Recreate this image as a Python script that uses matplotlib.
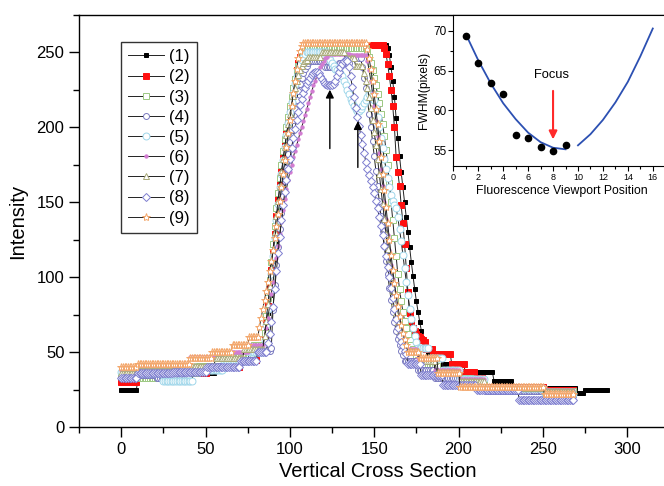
import numpy as np
import matplotlib
matplotlib.use('Agg')
import matplotlib.pyplot as plt
from matplotlib.ticker import MultipleLocator

plt.rcParams['font.family'] = ['Liberation Sans', 'DejaVu Sans']

# ---------------- data (run-length: (value, count) or single value per x step) ----------------
labels = ['(1)', '(2)', '(3)', '(4)', '(5)', '(6)', '(7)', '(8)', '(9)']

s1 = [(25, 10), (32, 15), (33, 16), (36, 15), (40, 15), (45, 9), (52, 5),
      58, 66, 76, 88, 100, 112, 124, 136, 147, 157, 166, 175, 184, 193, 201, 209, 216, 223, 229, 235,
      240, 244, 248, 251, 253, 254,
      (255, 47),
      253, 248, 240, 231, 220, 206, 193, 181, 170, 160, 150, 140, 130, 120, 110, 101, 92, 84, 77, 70,
      64, 59, 55, 52, 49,
      (46, 8), (42, 8), (37, 22), (31, 11), (26, 38), (23, 5), (25, 14)]

s2 = [(30, 10), (34, 21), (36, 20), (40, 20), (45, 10), (52, 4),
      60, 70, 81, 93, 105, 117, 129, 141, 152, 162, 171, 180, 189, 197, 205, 212, 219, 226, 232, 238,
      243, 247, 250, 253, 254,
      (255, 46),
      253, 249, 242, 234, 225, 214, 200, 180, 170, 161, 148, 136, 122, 106, 90, 76, 70, 66, 64, 62,
      61, 60, 59, 58, 57,
      (52, 4), (49, 11), (42, 8), (37, 6), (33, 5), (27, 36), (25, 18)]

s3 = [(35, 10), (33, 16), (36, 20), (41, 20), (47, 13), (55, 6),
      63, 74, 86, 98, 110, 122, 134, 146, 156, 166, 175, 184, 192, 200, 207, 214, 220, 226, 232, 237,
      241, 245, 248, 250, 252,
      (253, 36),
      250, 247, 243, 238, 233, 228, 222, 216, 209, 202, 194, 185, 175, 163, 150, 138, 126, 114, 102, 92,
      84, 77, 71, 66, 62, 58, 55, 52, 50, 48,
      (45, 6), (41, 6), (37, 8), (33, 12), (29, 8), (26, 20), (24, 33)]

s4 = [(33, 10), (35, 11), (33, 20), (38, 17), (41, 13), (45, 9), (52, 5),
      56, 54, 52, 51, 53, 78, 95, 108, 120, 132, 143, 154, 164, 173, 182, 190, 198, 205, 212, 218,
      224, 229, 233, 236, 239, 241, 243,
      (244, 9), (240, 8), (243, 7), (246, 7),
      240, 233, 226, 218, 209, 200, 191, 181, 171, 161, 151, 141, 131, 121, 111, 102, 93, 85, 77, 70,
      64, 59, 55, 51, 48,
      (44, 8), (38, 10), (33, 15), (28, 15), (24, 35), (21, 18)]

s5 = [(37, 10), (36, 15), (31, 18), (38, 18), (44, 15), (50, 9),
      58, 68, 79, 90, 102, 114, 126, 138, 149, 160, 169, 178, 187, 195, 203, 210, 217, 223, 229, 234,
      238, 242, 245, 247, 249,
      (250, 13),
      247, 245, 243, 241, 239, 238, 237, 236, 234, 231, 228, 225, 222, 219, 217, 214, 212, 211, 211, 212,
      214, 216, 218, 220, 222, 223, 222, 218, 213, 207, 200, 193, 186, 179, 172, 166, 160, 155, 151, 148,
      146, 140, 132, 124, 115, 106, 97, 88, 79, 72, 66, 61, 57,
      (53, 7), (46, 8), (38, 10), (32, 15), (26, 35), (22, 18)]

s6 = [(38, 10), (40, 31), (47, 20), (50, 15), (55, 9),
      60, 66, 73, 81, 89, 97, 105, 113, 121, 129, 137, 145, 152, 159, 165, 170, 175, 180, 184, 188,
      192, 196, 200, 204, 208, 212, 216, 220, 224, 228, 231, 234, 237, 240, 242, 244, 246, 247,
      (249, 13), (248, 10),
      244, 238, 231, 223, 214, 204, 194, 183, 172, 161, 150, 139, 128, 118, 108, 99, 90, 82, 75, 69,
      64, 60, 56,
      (52, 7), (46, 10), (38, 15), (32, 15), (27, 35), (25, 18)]

s7 = [(36, 10), (38, 26), (41, 20), (46, 17), (52, 12),
      61, 71, 82, 94, 106, 118, 130, 141, 151, 161, 170, 179, 187, 195, 202, 209, 215, 221, 226, 231,
      235, 238, 241, 243, 244, 245,
      (247, 8), (250, 14), (246, 6), (241, 5),
      236, 231, 226, 220, 213, 205, 197, 188, 179, 169, 159, 149, 139, 129, 119, 109, 100, 91, 83, 76,
      70, 64, 60, 56,
      (51, 9), (44, 10), (37, 14), (31, 15), (26, 35), (24, 18)]

s8 = [(33, 10), (36, 21), (37, 20), (40, 20), (44, 10), (50, 6),
      56, 62, 70, 80, 92, 104, 116, 127, 138, 148, 157, 165, 172, 179, 186, 193, 199, 205, 210, 215,
      219, 223, 226, 229, 231, 233, 235, 236, 237,
      237, 236, 234, 232, 230, 229, 228, 228, 228, 228, 229, 231, 234, 237, 240, 242, 244, 245, 244, 240,
      234, 227, 220, 213, 207, 201, 195, 189, 183, 177, 172, 168, 164, 160, 156, 151, 146, 140, 134, 128,
      121, 114, 107, 100, 93, 86, 79, 72, 66, 61, 57, 54, 51, 49,
      (42, 8), (35, 13), (28, 20), (25, 25), (18, 33)]

s9 = [(40, 10), (42, 31), (46, 13), (50, 12), (55, 10), (60, 6),
      67, 73, 79, 85, 91, 97, 104, 111, 118, 126, 134, 142, 151, 160, 169, 178, 187, 196, 205, 214,
      223, 231, 239, 246, 251, 254,
      (256, 38),
      252, 246, 239, 231, 222, 212, 202, 191, 180, 169, 158, 147, 136, 125, 115, 105, 96, 88, 81, 74,
      68, 63, 59, 55,
      (50, 7), (46, 11), (36, 13), (27, 50), (22, 18)]

# inset data
focus_pos = [1, 2, 3, 4, 5, 6, 7, 8, 9]
fwhm = [69.4, 65.9, 63.4, 62.0, 56.9, 56.5, 55.4, 54.9, 55.7]
fit_x1 = [1, 2, 3, 4, 5, 6, 7, 8, 9]
fit_y1 = [69.6, 66.3, 63.4, 60.9, 58.9, 57.2, 56.0, 55.3, 55.1]
fit_x2 = [10, 11, 12, 13, 14, 15, 16]
fit_y2 = [55.6, 57.0, 58.8, 61.0, 63.6, 66.8, 70.3]


def expand(seq):
    out = []
    for item in seq:
        if isinstance(item, tuple):
            out.extend([item[0]] * item[1])
        else:
            out.append(item)
    return np.array(out, dtype=float)


series = [expand(s) for s in (s1, s2, s3, s4, s5, s6, s7, s8, s9)]

styles = [
    dict(marker='s', ms=2.2, mfc='black', mec='black'),
    dict(marker='s', ms=4.5, mfc='#ff1010', mec='#ff1010'),
    dict(marker='s', ms=4.3, mfc='white', mec='#9cc882'),
    dict(marker='o', ms=4.3, mfc='white', mec='#7a7ac0'),
    dict(marker='o', ms=5.0, mfc='white', mec='#9fd6ea'),
    dict(marker='o', ms=2.4, mfc='#d27cd2', mec='#d27cd2'),
    dict(marker='^', ms=5.0, mfc='white', mec='#a9a978'),
    dict(marker='D', ms=4.3, mfc='white', mec='#7e7ed0'),
    dict(marker='*', ms=6.0, mfc='white', mec='#f3a66a'),
]

fig = plt.figure(figsize=(6.64, 4.86), dpi=100)
W, H = 664.0, 486.0
ax = fig.add_axes([79 / W, 59 / H, (677 - 79) / W, 412 / H])

for y, lab, st in zip(series, labels, styles):
    x = np.arange(len(y))
    ax.plot(x, y, linestyle='-', color='#222222', lw=0.7, mew=0.7, label=lab, **st)

ax.set_xlim(-25, 329.5)
ax.set_ylim(0, 275)
ax.xaxis.set_major_locator(MultipleLocator(50))
ax.xaxis.set_minor_locator(MultipleLocator(25))
ax.yaxis.set_major_locator(MultipleLocator(50))
ax.yaxis.set_minor_locator(MultipleLocator(25))
ax.tick_params(which='major', direction='out', length=7, width=1, labelsize=12)
ax.tick_params(which='minor', direction='out', length=4, width=1)
ax.spines['right'].set_visible(False)
for sp in ax.spines.values():
    sp.set_linewidth(1.0)
ax.set_xlabel('Vertical Cross Section', fontsize=14.5, labelpad=4)
ax.set_ylabel('Intensity', fontsize=14.5, labelpad=7)

leg = ax.legend(loc='upper left', bbox_to_anchor=(120.7 / W, 1 - 41.7 / H),
                bbox_transform=fig.transFigure, fontsize=12, handlelength=2.15,
                handletextpad=0.3, labelspacing=0.31, borderpad=0.45, borderaxespad=0,
                fancybox=False, edgecolor='#333333', framealpha=1, numpoints=1)
leg.get_frame().set_linewidth(1.0)

ax.annotate('', xy=(123.7, 227), xytext=(123.7, 184),
            arrowprops=dict(arrowstyle='-|>', color='black', lw=1, mutation_scale=12))
ax.annotate('', xy=(140.3, 206), xytext=(140.3, 171.4),
            arrowprops=dict(arrowstyle='-|>', color='black', lw=1, mutation_scale=12))

# ---------------- inset ----------------
ax2 = fig.add_axes([453.3 / W, (H - 166) / H, (671 - 453.3) / W, 151 / H])
ax2.plot(fit_x1, fit_y1, color='#2c50b2', lw=1.3)
ax2.plot(fit_x2, fit_y2, color='#2c50b2', lw=1.3)
ax2.plot(focus_pos, fwhm, 'o', color='black', ms=4.5)
ax2.annotate('', xy=(8, 56.0), xytext=(8, 62.8),
             arrowprops=dict(arrowstyle='-|>', color='#ff2a2a', lw=1.5, mutation_scale=12))
ax2.text(7.9, 64.5, 'Focus', ha='center', va='center', fontsize=9.3)
ax2.set_xlim(0, 17.46)
ax2.set_ylim(53, 72)
ax2.xaxis.set_major_locator(MultipleLocator(2))
ax2.xaxis.set_minor_locator(MultipleLocator(1))
ax2.yaxis.set_major_locator(MultipleLocator(5))
ax2.yaxis.set_minor_locator(MultipleLocator(2.5))
ax2.tick_params(axis='x', which='major', direction='out', length=3.5, width=0.8, labelsize=6.5, pad=1.5)
ax2.tick_params(axis='y', which='major', direction='out', length=3.5, width=0.8, labelsize=8.5, pad=1.5)
ax2.tick_params(which='minor', direction='out', length=2, width=0.8)
ax2.spines['right'].set_visible(False)
ax2.set_xlabel('Fluorescence Viewport Position', fontsize=8.8, labelpad=2)
ax2.set_ylabel('FWHM(pixels)', fontsize=8.7, labelpad=2)

fig.savefig('out.png', dpi=100)
